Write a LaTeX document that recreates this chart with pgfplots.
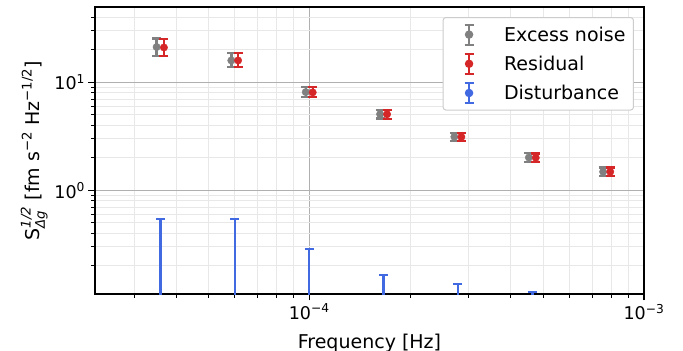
\documentclass[border=0pt]{standalone}
\usepackage{fontspec}
\setmainfont{DejaVu Sans}
\usepackage{amsmath}
\usepackage{pgfplots}
\pgfplotsset{compat=1.18}
\usepackage{pgfplotstable}
\definecolor{cgray}{HTML}{808080}
\definecolor{cred}{HTML}{D62728}
\definecolor{cblue}{HTML}{4169E1}
\newcommand\fsT{\fontsize{17.5bp}{21bp}\selectfont}
\newcommand\fsL{\fontsize{19bp}{23bp}\selectfont}

\pgfplotstableread{
x        y     ep    em
3.50e-5  21.3  4.2   3.6
5.85e-5  16.0  2.6   2.1
9.76e-5  8.15  0.95  0.8
1.628e-4 5.09  0.45  0.45
2.713e-4 3.14  0.28  0.27
4.53e-4  2.02  0.19  0.18
7.55e-4  1.49  0.14  0.13
}\excess
\pgfplotstableread{
x        y     ep    em
3.68e-5  21.1  4.2   3.6
6.13e-5  16.0  2.6   2.1
1.024e-4 8.10  0.95  0.8
1.708e-4 5.08  0.45  0.45
2.847e-4 3.13  0.28  0.27
4.75e-4  2.01  0.19  0.18
7.93e-4  1.49  0.14  0.13
}\residual
\pgfplotstableread{
x        y     ep
3.59e-5  0.01  0.537
5.99e-5  0.01  0.537
1.0e-4   0.01  0.276
1.668e-4 0.01  0.155
2.78e-4  0.01  0.126
4.64e-4  0.01  0.104
7.74e-4  0.01  0.07
}\disturb

\newcommand\ebimage[1]{%
  \path[draw=none, fill=none] (0bp,0bp) -- (53bp,0bp);
  \draw[#1, line width=2.2bp] (20bp,-10bp) -- (20bp,10bp) (15.5bp,-10bp) -- (24.5bp,-10bp) (15.5bp,10bp) -- (24.5bp,10bp);
  \fill[#1] (20bp,0bp) circle (3.7bp);}

\begin{document}
\begin{tikzpicture}
\begin{axis}[
  scale only axis, width=549bp, height=287bp,
  xmode=log, ymode=log,
  xmin=2.29e-5, xmax=1e-3, ymin=0.11, ymax=50,
  xtick={1e-4,1e-3},
  xticklabels={10\textsuperscript{−4},10\textsuperscript{−3}},
  ytick={1,10},
  yticklabels={10\textsuperscript{0},10\textsuperscript{1}},
  minor xtick={3e-5,4e-5,5e-5,6e-5,7e-5,8e-5,9e-5,2e-4,3e-4,4e-4,5e-4,6e-4,7e-4,8e-4,9e-4},
  minor ytick={0.2,0.3,0.4,0.5,0.6,0.7,0.8,0.9,2,3,4,5,6,7,8,9,20,30,40},
  grid=both,
  major grid style={color=black!31, line width=1.2bp},
  minor grid style={color=black!9, line width=1bp},
  axis line style={line width=1.4bp},
  tick align=outside, xtick pos=bottom, ytick pos=left,
  major tick style={black, line width=1.4bp},
  minor tick style={black, line width=1bp},
  major tick length=6.5bp, minor tick length=3.7bp,
  tick label style={font=\fsT},
  label style={font=\fsL},
  xlabel={Frequency [Hz]},
  xlabel style={yshift=-8bp},
  ylabel={$\text{S}^{\text{\itshape 1/2}}_{\text{\itshape Δg}}$ [fm s\textsuperscript{−2} Hz\textsuperscript{−1/2}]},
  /pgf/number format/assume math mode=true,
  legend style={at={(rel axis cs:1,1)}, anchor=north east, xshift=-10bp, yshift=-10bp,
    draw=black!20, rounded corners=3bp, line width=1bp, fill=white,
    font=\fsL, inner xsep=6bp, inner ysep=6bp, row sep=7bp},
  legend cell align=left,
  error bars/error bar style={line width=2.4bp},
  error bars/error mark options={rotate=90, mark size=4.5bp, line width=2.2bp},
]
\coordinate (SW) at (rel axis cs:0,0);
\coordinate (NE) at (rel axis cs:1,1);
\addplot+[only marks, mark=*, mark size=3.7bp, color=cgray, mark options={fill=cgray, draw=cgray},
  legend image code/.code={\ebimage{cgray}},
  error bars/.cd, y dir=both, y explicit]
  table[x=x, y=y, y error plus=ep, y error minus=em] {\excess};
\addlegendentry{Excess noise}
\addplot+[only marks, mark=*, mark size=3.7bp, color=cred, mark options={fill=cred, draw=cred},
  legend image code/.code={\ebimage{cred}},
  error bars/.cd, y dir=both, y explicit]
  table[x=x, y=y, y error plus=ep, y error minus=em] {\residual};
\addlegendentry{Residual}
\addplot+[only marks, mark=*, mark size=3.7bp, color=cblue, mark options={fill=cblue, draw=cblue},
  legend image code/.code={\ebimage{cblue}},
  error bars/.cd, y dir=plus, y explicit]
  table[x=x, y=y, y error plus=ep] {\disturb};
\addlegendentry{Disturbance}
\end{axis}
\pgfresetboundingbox
\useasboundingbox ([xshift=-95bp,yshift=-57bp]SW) rectangle ([xshift=39bp,yshift=7bp]NE);
\end{tikzpicture}
\end{document}
